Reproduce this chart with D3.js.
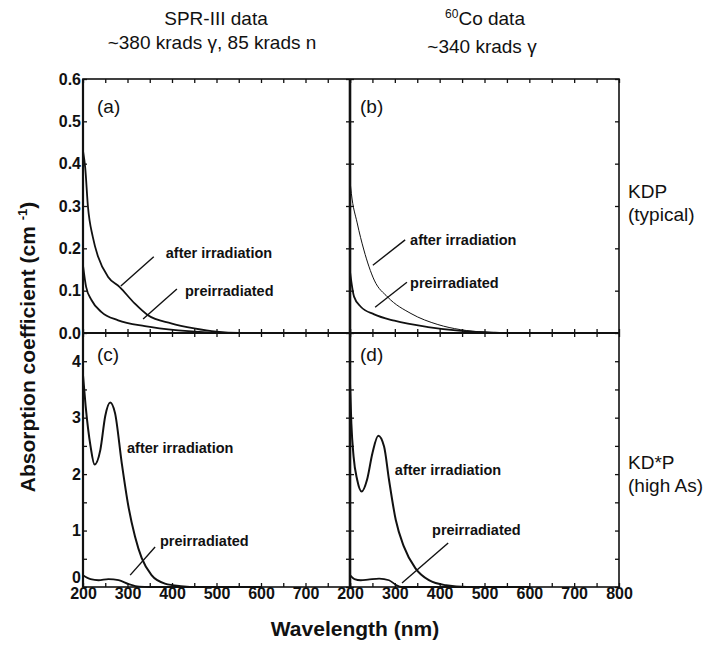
<!DOCTYPE html>
<html>
<head>
<meta charset="utf-8">
<script src="https://cdn.jsdelivr.net/npm/d3@7"></script>
<style>
  body { margin: 0; background: #fff; }
  text { font-family: "Liberation Sans", Arial, Helvetica, sans-serif; fill: #111; }
  .tick text { font-weight: bold; font-size: 16px; }
  .tick line { stroke: #111; stroke-width: 1.3; }
  .domain { display: none; }
</style>
</head>
<body>
<script>
// Wavelength (nm) / absorption coefficient (cm^-1)
const aAfter = [[200,0.43],[205,0.39],[211,0.30],[222,0.227],[234,0.18],[256,0.133],[282,0.109],[316,0.07],[346,0.042],[398,0.023],[450,0.011],[500,0.003],[550,0],[650,0]];
const aPre   = [[200,0.16],[207,0.109],[219,0.078],[241,0.05],[279,0.03],[339,0.016],[414,0.006],[489,0.001],[550,0],[650,0]];
const bAfter = [[200,0.36],[203,0.33],[216,0.26],[231,0.196],[254,0.125],[284,0.085],[336,0.046],[396,0.02],[446,0.008],[500,0.002],[550,0],[650,0]];
const bPre   = [[200,0.145],[209,0.086],[224,0.062],[254,0.044],[299,0.029],[374,0.014],[448,0.005],[520,0.001],[560,0],[650,0]];
const cAfter = [[200,3.75],[206,3.2],[217,2.49],[226,2.17],[239,2.43],[250,3.03],[261,3.27],[272,3.08],[287,2.2],[302,1.43],[317,0.89],[332,0.51],[354,0.21],[384,0.06],[420,0.015],[460,0],[600,0]];
const cPre   = [[200,0.21],[217,0.14],[235,0.12],[257,0.14],[280,0.12],[303,0.05],[326,0.005],[350,0],[600,0]];
const dAfter = [[200,3.6],[203,2.9],[208,2.31],[216,1.9],[226,1.69],[238,1.9],[250,2.37],[263,2.68],[276,2.49],[287,1.9],[302,1.19],[320,0.72],[346,0.33],[376,0.12],[414,0.03],[460,0],[600,0]];
const dPre   = [[200,0.21],[210,0.14],[224,0.12],[240,0.13],[265,0.15],[287,0.12],[302,0.04],[315,0],[600,0]];

const wavelengthTicks = [200, 250, 300, 350, 400, 450, 500, 550, 600, 650, 700, 750, 800];
const wavelengthLabels = [200, 300, 400, 500, 600, 700, 800];
const kdpTicks = [0, 0.1, 0.2, 0.3, 0.4, 0.5, 0.6];
const kdStarTicks = [0, 0.5, 1, 1.5, 2, 2.5, 3, 3.5, 4];
const kdStarLabels = [0, 1, 2, 3, 4];

const columnTitles = [["SPR-III data", "~380 krads \u03b3, 85 krads n"], ["Co data", "~340 krads \u03b3"]];
const rowTitles = [["KDP", "(typical)"], ["KD*P", "(high As)"]];

// annotations in data units: text position, leader line from / to
const panels = [
  { id: "(a)", col: 0, row: 0, after: aAfter, pre: aPre, afterW: 1.8,
    afterNote: { t: [386, 0.177], line: [[359, 0.18], [285, 0.111]] },
    preNote: { t: [429, 0.087], line: [[411, 0.104], [335, 0.033]] } },
  { id: "(b)", col: 1, row: 0, after: bAfter, pre: bPre, afterW: 1.0,
    afterNote: { t: [334, 0.208], line: [[323, 0.22], [251, 0.16]] },
    preNote: { t: [334, 0.106], line: [[327, 0.12], [256, 0.061]] } },
  { id: "(c)", col: 0, row: 1, after: cAfter, pre: cPre, afterW: 2,
    afterNote: { t: [299, 2.37] },
    preNote: { t: [373, 0.73], line: [[362, 0.71], [306, 0.21]] } },
  { id: "(d)", col: 1, row: 1, after: dAfter, pre: dPre, afterW: 2,
    afterNote: { t: [300, 1.98] },
    preNote: { t: [383, 0.92], line: [[419, 0.78], [316, 0.07]] } }
];

const svg = d3.select("body").append("svg")
    .attr("width", 719)
    .attr("height", 649);

const xs = [
  d3.scaleLinear().domain([200, 800]).range([83, 350]),
  d3.scaleLinear().domain([200, 800]).range([350, 619])
];
const ys = [
  d3.scaleLinear().domain([0, 0.6]).range([333, 79]),
  d3.scaleLinear().domain([0, 4.5]).range([587, 333])
];

// ticks
xs.forEach((x, c) => {
  ys.forEach((y, r) => {
    const top = y.range()[1], bottom = y.range()[0];
    svg.append("g").attr("transform", "translate(0," + top + ")")
      .call(d3.axisTop(x).tickValues(wavelengthTicks).tickSize(-4).tickFormat(""));
    const bAxis = svg.append("g").attr("transform", "translate(0," + bottom + ")")
      .call(d3.axisBottom(x).tickValues(wavelengthTicks).tickSize(-4).tickPadding(2)
        .tickFormat(d => (r === 1 && wavelengthLabels.includes(d) && !(c === 0 && d === 800)) ? d : ""));
    bAxis.selectAll(".tick text").attr("dy", "0.62em");
  });
});

ys.forEach((y, r) => {
  const ticks = r === 0 ? kdpTicks : kdStarTicks;
  const lAxis = svg.append("g").attr("transform", "translate(" + xs[0].range()[0] + ",0)")
    .call(d3.axisLeft(y).tickValues(ticks).tickSize(-4).tickPadding(2)
      .tickFormat(d => r === 0 ? d3.format(".1f")(d) : (kdStarLabels.includes(d) ? d : "")));
  // the lowest label of the lower panel sits above its tick, clear of "200"
  if (r === 1) lAxis.selectAll(".tick text").filter(d => d === 0).attr("dy", "-0.3em");
  svg.append("g").attr("transform", "translate(" + xs[0].range()[1] + ",0)")
    .call(d3.axisLeft(y).tickValues(ticks).tickSize(4).tickFormat(""));
  svg.append("g").attr("transform", "translate(" + xs[1].range()[0] + ",0)")
    .call(d3.axisRight(y).tickValues(ticks).tickSize(4).tickFormat(""));
  svg.append("g").attr("transform", "translate(" + xs[1].range()[1] + ",0)")
    .call(d3.axisRight(y).tickValues(ticks).tickSize(-4).tickFormat(""));
});

// frames
const left = xs[0].range()[0], mid = xs[0].range()[1], right = xs[1].range()[1];
const topY = ys[0].range()[1], midY = ys[0].range()[0], botY = ys[1].range()[0];
svg.append("rect").attr("x", left).attr("y", topY).attr("width", right - left).attr("height", botY - topY)
  .attr("fill", "none").attr("stroke", "#111").attr("stroke-width", 1.6);
svg.append("line").attr("x1", mid).attr("x2", mid).attr("y1", topY).attr("y2", botY)
  .attr("stroke", "#111").attr("stroke-width", 2.6);
svg.append("line").attr("x1", left).attr("x2", right).attr("y1", midY).attr("y2", midY)
  .attr("stroke", "#111").attr("stroke-width", 2.2);
svg.append("line").attr("x1", left).attr("x2", left).attr("y1", topY).attr("y2", botY)
  .attr("stroke", "#111").attr("stroke-width", 2.2);

// curves and notes
panels.forEach(p => {
  const x = xs[p.col], y = ys[p.row];
  const line = d3.line().x(d => x(d[0])).y(d => y(d[1])).curve(d3.curveMonotoneX);
  svg.append("path").datum(p.pre).attr("d", line)
    .attr("fill", "none").attr("stroke", "#111").attr("stroke-width", 1.8);
  svg.append("path").datum(p.after).attr("d", line)
    .attr("fill", "none").attr("stroke", "#111").attr("stroke-width", p.afterW);

  [[p.afterNote, "after irradiation"], [p.preNote, "preirradiated"]].forEach(([n, label]) => {
    svg.append("text").attr("x", x(n.t[0])).attr("y", y(n.t[1]))
      .attr("font-size", "14.5px").attr("font-weight", "bold").text(label);
    if (n.line) {
      svg.append("line")
        .attr("x1", x(n.line[0][0])).attr("y1", y(n.line[0][1]))
        .attr("x2", x(n.line[1][0])).attr("y2", y(n.line[1][1]))
        .attr("stroke", "#111").attr("stroke-width", 1.4);
    }
  });

  svg.append("text")
    .attr("x", x.range()[0] + (p.col === 0 ? 14 : 10))
    .attr("y", y.range()[1] + (p.row === 0 ? 34 : 28))
    .attr("font-size", "19px").text(p.id);
});

// column titles
columnTitles.forEach((t, c) => {
  const cx = c === 0 ? 216 : 485;
  const t1 = svg.append("text").attr("x", cx).attr("y", 25)
    .attr("text-anchor", "middle").attr("font-size", "19px");
  if (c === 1) t1.append("tspan").attr("font-size", "12px").attr("dy", "-7").text("60");
  t1.append("tspan").attr("dy", c === 1 ? "7" : null).text(t[0]);
  svg.append("text").attr("x", c === 0 ? 212 : 482).attr("y", c === 0 ? 49 : 53)
    .attr("text-anchor", "middle").attr("font-size", "19px").text(t[1]);
});

// row titles
rowTitles.forEach((t, r) => {
  const y0 = r === 0 ? 198 : 469;
  svg.append("text").attr("x", 628).attr("y", y0).attr("font-size", "19px").text(t[0]);
  svg.append("text").attr("x", 628).attr("y", y0 + 23).attr("font-size", "19px").text(t[1]);
});

// axis titles
const yTitle = svg.append("text")
  .attr("transform", "translate(35,347) rotate(-90)")
  .attr("text-anchor", "middle").attr("font-size", "21px").attr("font-weight", "bold");
yTitle.append("tspan").text("Absorption coefficient (cm ");
yTitle.append("tspan").attr("font-size", "13px").attr("dy", "-8").text("-1");
yTitle.append("tspan").attr("dy", "8").text(")");

svg.append("text").attr("x", 355).attr("y", 636)
  .attr("text-anchor", "middle").attr("font-size", "21px").attr("font-weight", "bold")
  .text("Wavelength (nm)");
</script>
</body>
</html>
